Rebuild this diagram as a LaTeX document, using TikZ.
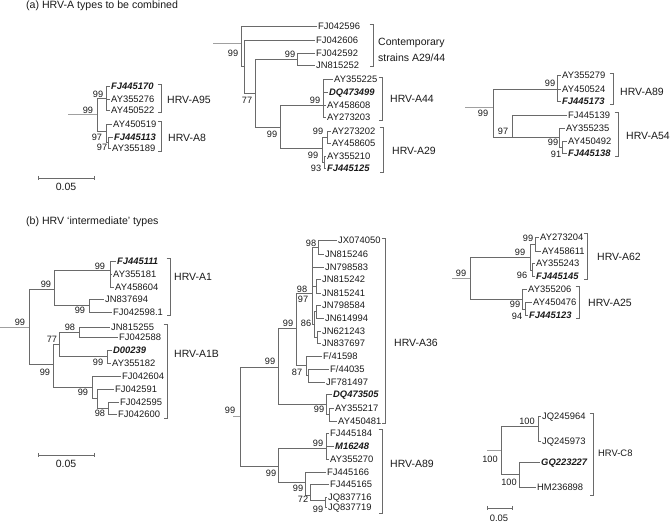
\documentclass[tikz,border=0pt]{standalone}
\usepackage{fontspec}
\setmainfont{Liberation Sans}
\definecolor{lc}{HTML}{6A6A6A}
\definecolor{sc}{HTML}{A0A0A0}
\definecolor{tc}{HTML}{1A1A1A}
\newcommand\leafn[4]{\coordinate (#1) at ({#2-1.5},#3); \node[leaf] (#1t) at (#2,#3) {#4};}
\newcommand\leafb[4]{\coordinate (#1) at ({#2-1.5},#3); \node[bleaf] (#1t) at (#2,#3) {#4};}
\newcommand\brkt[3]{\draw[brk] ({#1-3.5},#2) -- (#1,#2) -- (#1,#3) -- ({#1-3.5},#3);}
\newcommand\bsn[4]{\node[bs] (#1) at (#2,#3) {#4};}
\begin{document}
\begin{tikzpicture}[x=1pt,y=-1pt,
 br/.style={draw=lc,line width=0.8pt},
 stub/.style={draw=sc,line width=0.8pt},
 brk/.style={draw=lc,line width=0.7pt},
 leaf/.style={anchor=west,inner sep=0pt,text=tc,font=\fontsize{9.4}{10}\selectfont,text height=6.8pt,text depth=0pt},
 bleaf/.style={leaf,font=\fontsize{9.4}{10}\selectfont\bfseries\itshape},
 bs/.style={inner sep=0pt,text=tc,font=\fontsize{9.2}{10}\selectfont,text height=6.6pt,text depth=0pt},
 clade/.style={anchor=west,inner sep=0pt,text=tc,font=\fontsize{10.5}{12}\selectfont,text height=7.6pt,text depth=0pt},
 ttl/.style={anchor=west,inner sep=0pt,text=tc,font=\fontsize{10.6}{12}\selectfont},
 sclab/.style={inner sep=0pt,text=tc,font=\fontsize{10.5}{12}\selectfont}]
\useasboundingbox (0,0) rectangle (672,524);

% ================= (a) =================
\node[ttl] (ta) at (26,6) {(a) HRV-A types to be combined};

% ---- left tree (A95 / A8)
\coordinate (ra1s) at (68,114);
\coordinate (ra1) at (97,114);
\coordinate (a95) at (106,98);
\coordinate (a8) at (106,131);
\coordinate (a8b) at (108,142);
\leafb{l1}{111}{86}{FJ445170}
\leafn{l2}{111}{99}{AY355276}
\leafn{l3}{111}{110}{AY450522}
\leafn{l4}{113}{124}{AY450519}
\leafb{l5}{114}{137}{FJ445113}
\leafn{l6}{112}{148}{AY355189}
\draw[stub] (ra1s) -- (ra1);
\foreach \p/\c in {ra1/a95,ra1/a8,a95/l1,a95/l2,a95/l3,a8/l4,a8/a8b,a8b/l5,a8b/l6}
  \draw[br] (\p) |- (\c);
\bsn{b1}{88}{110}{99}
\bsn{b2}{98}{94}{99}
\bsn{b3}{97}{137}{97}
\bsn{b4}{102}{147}{97}
\brkt{161}{84}{112}
\brkt{161}{121}{151}
\node[clade] (ca95) at (167,100) {HRV-A95};
\node[clade] (ca8) at (168,138) {HRV-A8};
% scale bar
\coordinate (sa1) at (38,178);
\coordinate (sa2) at (94,178);
\draw[brk] (sa1) -- (sa2);
\draw[brk] ([yshift=2.2pt]sa1) -- ([yshift=-2.2pt]sa1);
\draw[brk] ([yshift=2.2pt]sa2) -- ([yshift=-2.2pt]sa2);
\node[sclab] (sal) at (66,187) {0.05};

% ---- middle tree (A29 / A44)
\coordinate (ra2s) at (213,43);
\coordinate (ra2) at (241,43);
\coordinate (mx) at (244,66);
\coordinate (m77) at (255,93);
\coordinate (m99a) at (297,59);
\coordinate (m99b) at (280,127);
\coordinate (ma44) at (323,105);
\coordinate (ma29) at (322,148);
\coordinate (ma29a) at (327,137);
\coordinate (ma29b) at (324,162);
\leafn{m1}{318}{26}{FJ042596}
\leafn{m2}{316}{40}{FJ042606}
\leafn{m3}{316}{53}{FJ042592}
\leafn{m4}{316}{65}{JN815252}
\leafn{m5}{334}{79}{AY355225}
\leafb{m6}{329}{92}{DQ473499}
\leafn{m7}{327}{105}{AY458608}
\leafn{m8}{327}{117}{AY273203}
\leafn{m9}{332}{131}{AY273202}
\leafn{m10}{332}{143}{AY458605}
\leafn{m11}{327}{156}{AY355210}
\leafb{m12}{327}{168}{FJ445125}
\draw[stub] (ra2s) -- (ra2);
\foreach \p/\c in {ra2/m1,ra2/mx,mx/m2,mx/m77,m77/m99a,m77/m99b,m99a/m3,m99a/m4,
  m99b/ma44,m99b/ma29,ma44/m5,ma44/m6,ma44/m7,ma44/m8,ma29/ma29a,ma29/ma29b,
  ma29a/m9,ma29a/m10,ma29b/m11,ma29b/m12}
  \draw[br] (\p) |- (\c);
\bsn{b5}{233}{53}{99}
\bsn{b6}{290}{54}{99}
\bsn{b7}{247}{100}{77}
\bsn{b8}{272}{134}{99}
\bsn{b9}{315}{100}{99}
\bsn{b10}{318}{131}{99}
\bsn{b11}{313}{155}{99}
\bsn{b12}{316}{168}{93}
\brkt{373}{24}{66}
\brkt{382}{77}{120}
\brkt{383}{127}{172}
\node[clade] (cc1) at (378,42) {Contemporary};
\node[clade] (cc2) at (378,58) {strains A29/44};
\node[clade] (ca44) at (390,99) {HRV-A44};
\node[clade] (ca29) at (392,151) {HRV-A29};

% ---- right tree (A89 / A54)
\coordinate (ra3s) at (465,107);
\coordinate (ra3) at (493,107);
\coordinate (ra89) at (557,89);
\coordinate (r97) at (512,137);
\coordinate (r99c) at (559,137);
\coordinate (r91) at (562,147);
\leafn{r1}{562}{75}{AY355279}
\leafn{r2}{562}{89}{AY450524}
\leafb{r3}{562}{101}{FJ445173}
\leafn{r4}{568}{115}{FJ445139}
\leafn{r5}{566}{128}{AY355235}
\leafn{r6}{568}{141}{AY450492}
\leafb{r7}{568}{153}{FJ445138}
\draw[stub] (ra3s) -- (ra3);
\foreach \p/\c in {ra3/ra89,ra3/r97,ra89/r1,ra89/r2,ra89/r3,r97/r4,r97/r99c,
  r99c/r5,r99c/r91,r91/r6,r91/r7}
  \draw[br] (\p) |- (\c);
\bsn{b13}{483}{113}{99}
\bsn{b14}{550}{83}{99}
\bsn{b15}{503}{131}{97}
\bsn{b16}{553}{142}{99}
\bsn{b17}{556}{154}{91}
\brkt{613}{73}{104}
\brkt{618}{112}{156}
\node[clade] (ca89) at (620,92) {HRV-A89};
\node[clade] (ca54) at (626,136) {HRV-A54};

% ================= (b) =================
\node[ttl] (tb) at (26,222) {(b) HRV ‘intermediate’ types};

% ---- left tree (A1 / A1B)
\coordinate (rb1s) at (0,327);
\coordinate (rb1) at (29,327);
\coordinate (na1) at (54,289);
\coordinate (na1a) at (110,270);
\coordinate (na1b) at (89,305);
\coordinate (na1B) at (53,364);
\coordinate (n77) at (59,344);
\coordinate (n98) at (79,332);
\coordinate (n99d) at (107,356);
\coordinate (n99e) at (92,387);
\coordinate (n97b) at (97,398);
\coordinate (n98b) at (108,408);
\leafb{p1}{117}{261}{FJ445111}
\leafn{p2}{113}{274}{AY355181}
\leafn{p3}{115}{287}{AY458604}
\leafn{p4}{105}{299}{JN837694}
\leafn{p5}{113}{312}{FJ042598.1}
\leafn{p6}{111}{327}{JN815255}
\leafn{p7}{119}{337}{FJ042588}
\leafb{p8}{113}{350}{D00239}
\leafn{p9}{112}{363}{AY355182}
\leafn{p10}{122}{376}{FJ042604}
\leafn{p11}{115}{389}{FJ042591}
\leafn{p12}{120}{402}{FJ042595}
\leafn{p13}{118}{414}{FJ042600}
\draw[stub] (rb1s) -- (rb1);
\foreach \p/\c in {rb1/na1,rb1/na1B,na1/na1a,na1/na1b,na1a/p1,na1a/p2,na1a/p3,
  na1b/p4,na1b/p5,na1B/n77,na1B/n99e,n77/n98,n77/n99d,n98/p6,n98/p7,n99d/p8,n99d/p9,
  n99e/p10,n99e/n97b,n97b/p11,n97b/n98b,n98b/p12,n98b/p13}
  \draw[br] (\p) |- (\c);
\bsn{b18}{20}{322}{99}
\bsn{b19}{46}{284}{99}
\bsn{b20}{100}{266}{99}
\bsn{b21}{80}{310}{99}
\bsn{b22}{45}{372}{99}
\bsn{b23}{52}{339}{77}
\bsn{b24}{70}{327}{98}
\bsn{b25}{98}{362}{99}
\bsn{b26}{83}{392}{99}
\bsn{b27}{100}{413}{98}
\brkt{170}{258}{315}
\brkt{167}{324}{418}
\node[clade] (ca1) at (174,277) {HRV-A1};
\node[clade] (ca1b) at (174,354) {HRV-A1B};
\coordinate (sb1) at (38,455);
\coordinate (sb2) at (94,455);
\draw[brk] (sb1) -- (sb2);
\draw[brk] ([yshift=2.2pt]sb1) -- ([yshift=-2.2pt]sb1);
\draw[brk] ([yshift=2.2pt]sb2) -- ([yshift=-2.2pt]sb2);
\node[sclab] (sbl) at (66,464) {0.05};

% ---- middle tree (A36 / A89)
\coordinate (rb2s) at (233,416);
\coordinate (rb2) at (240,416);
\coordinate (na36) at (278,367);
\coordinate (q1n) at (296,328);
\coordinate (q2n) at (312,293);
\coordinate (q98c) at (318,247);
\coordinate (q4243) at (316,286);
\coordinate (q86) at (314,324);
\coordinate (q86a) at (316,311);
\coordinate (q86b) at (317,337);
\coordinate (q87) at (306,365);
\coordinate (q87b) at (308,375);
\coordinate (qdq) at (326,404);
\coordinate (qdqb) at (329,414);
\coordinate (na89) at (278,466);
\coordinate (qm) at (326,448);
\coordinate (q305) at (305,482);
\coordinate (q310) at (310,495);
\coordinate (q315) at (325,500);
\leafn{q1}{338}{240}{JX074050}
\leafn{q2}{325}{254}{JN815246}
\leafn{q3}{325}{267}{JN798583}
\leafn{q4}{322}{279}{JN815242}
\leafn{q5}{322}{293}{JN815241}
\leafn{q6}{322}{305}{JN798584}
\leafn{q7}{325}{318}{JN614994}
\leafn{q8}{322}{331}{JN621243}
\leafn{q9}{322}{343}{JN837697}
\leafn{q10}{323}{356}{F/41598}
\leafn{q11}{330}{369}{F/44035}
\leafn{q12}{326}{382}{JF781497}
\leafb{q13}{333}{394}{DQ473505}
\leafn{q14}{335}{408}{AY355217}
\leafn{q15}{338}{421}{AY450481}
\leafn{q16}{330}{433}{FJ445184}
\leafb{q17}{335}{446}{M16248}
\leafn{q18}{330}{459}{AY355270}
\leafn{q19}{327}{472}{FJ445166}
\leafn{q20}{330}{484}{FJ445165}
\leafn{q21}{328}{497}{JQ837716}
\leafn{q22}{328}{507}{JQ837719}
\draw[stub] (rb2s) -- (rb2);
\foreach \p/\c in {rb2/na36,rb2/na89,na36/q1n,na36/qdq,q1n/q2n,q1n/q87,
  q2n/q98c,q2n/q3,q2n/q4243,q2n/q86,q98c/q1,q98c/q2,q4243/q4,q4243/q5,
  q86/q86a,q86/q86b,q86a/q6,q86a/q7,q86b/q8,q86b/q9,q87/q10,q87/q87b,q87b/q11,q87b/q12,
  qdq/q13,qdq/qdqb,qdqb/q14,qdqb/q15,na89/qm,na89/q305,qm/q16,qm/q17,qm/q18,
  q305/q19,q305/q310,q310/q20,q310/q315,q315/q21,q315/q22}
  \draw[br] (\p) |- (\c);
\bsn{b28}{230}{410}{99}
\bsn{b29}{270}{361}{99}
\bsn{b30}{288}{323}{99}
\bsn{b31}{302}{289}{98}
\bsn{b32}{303}{299}{97}
\bsn{b33}{311}{243}{98}
\bsn{b34}{306}{323}{86}
\bsn{b35}{297}{372}{87}
\bsn{b36}{319}{409}{99}
\bsn{b37}{271}{473.5}{99}
\bsn{b38}{318}{443}{99}
\bsn{b39}{298}{488.5}{99}
\bsn{b40}{303}{499.5}{72}
\bsn{b41}{318}{509.5}{99}
\brkt{385}{238}{423}
\brkt{382}{429}{513}
\node[clade] (ca36) at (394,343) {HRV-A36};
\node[clade] (ca89b) at (390,464) {HRV-A89};

% ---- right upper tree (A62 / A25)
\coordinate (rb3s) at (452,278);
\coordinate (rb3) at (470,278);
\coordinate (s62) at (530,257);
\coordinate (s62a) at (535,244);
\coordinate (s62b) at (532,270);
\coordinate (s25) at (522,299);
\coordinate (s25b) at (525,309);
\leafn{s1}{540}{237}{AY273204}
\leafn{s2}{542}{251}{AY458611}
\leafn{s3}{536}{263}{AY355243}
\leafb{s4}{536}{276}{FJ445145}
\leafn{s5}{528}{289}{AY355206}
\leafn{s6}{533}{302}{AY450476}
\leafb{s7}{529}{315}{FJ445123}
\draw[stub] (rb3s) -- (rb3);
\foreach \p/\c in {rb3/s62,rb3/s25,s62/s62a,s62/s62b,s62a/s1,s62a/s2,s62b/s3,s62b/s4,
  s25/s5,s25/s25b,s25b/s6,s25b/s7}
  \draw[br] (\p) |- (\c);
\bsn{b42}{461}{273}{99}
\bsn{b43}{520}{252}{99}
\bsn{b44}{528}{238}{99}
\bsn{b45}{522}{275}{96}
\bsn{b46}{515}{304}{99}
\bsn{b47}{517}{316}{94}
\brkt{587}{233}{279}
\brkt{579}{286}{318}
\node[clade] (ca62) at (597,257) {HRV-A62};
\node[clade] (ca25) at (588,303) {HRV-A25};

% ---- right lower tree (C8)
\coordinate (rcs) at (487,450);
\coordinate (rc) at (501,450);
\coordinate (nc1) at (538,426);
\coordinate (nc2) at (519,474);
\leafn{c1}{542}{416}{JQ245964}
\leafn{c2}{542}{441}{JQ245973}
\leafb{c3}{541}{462}{GQ223227}
\leafn{c4}{537}{487}{HM236898}
\draw[stub] (rcs) -- (rc);
\foreach \p/\c in {rc/nc1,rc/nc2,nc1/c1,nc1/c2,nc2/c3,nc2/c4}
  \draw[br] (\p) |- (\c);
\bsn{b48}{490}{459}{100}
\bsn{b49}{527}{421}{100}
\bsn{b50}{509}{482}{100}
\brkt{593}{413}{495}
\node[clade,font=\fontsize{9.4}{11}\selectfont] (cc8) at (598,453) {HRV-C8};
\coordinate (sc1) at (487,508);
\coordinate (sc2) at (512,508);
\draw[brk] (sc1) -- (sc2);
\draw[brk] ([yshift=2.2pt]sc1) -- ([yshift=-2.2pt]sc1);
\draw[brk] ([yshift=2.2pt]sc2) -- ([yshift=-2.2pt]sc2);
\node[sclab,font=\fontsize{9.4}{11}\selectfont] (scl) at (499,518) {0.05};
\end{tikzpicture}
\end{document}
